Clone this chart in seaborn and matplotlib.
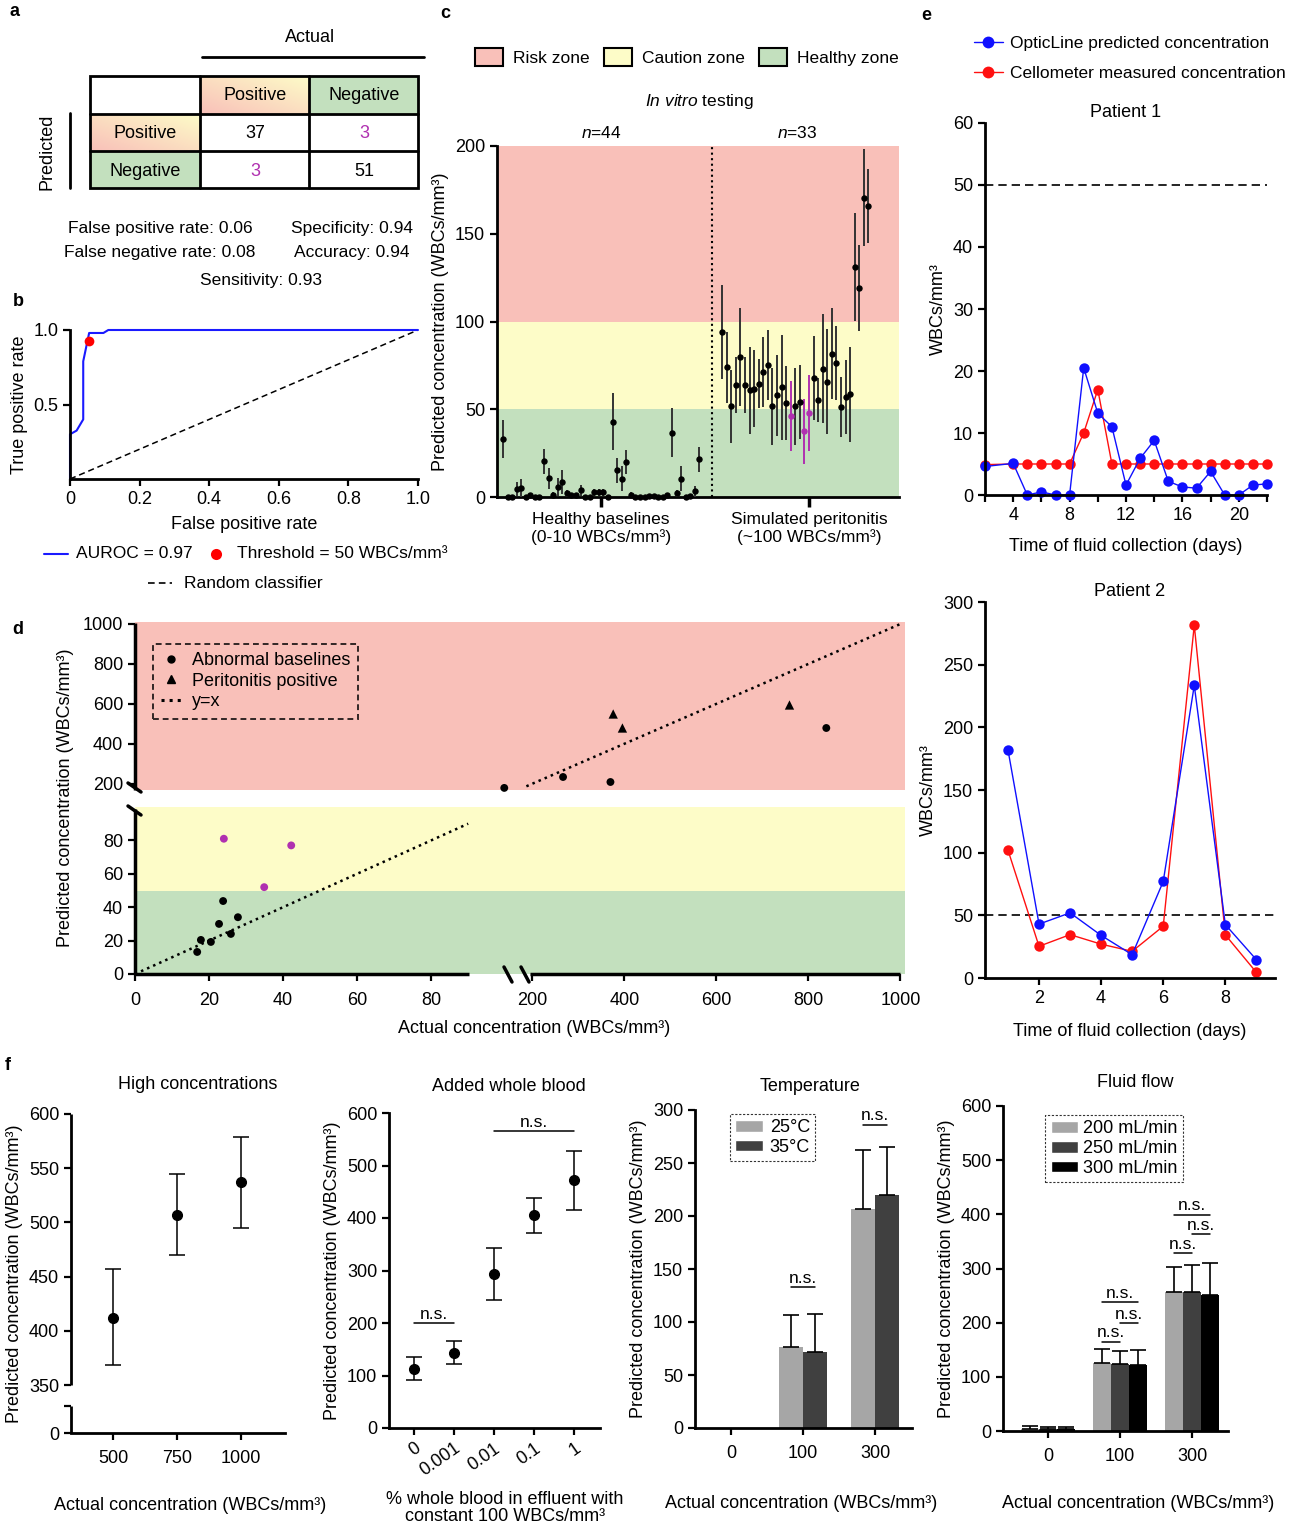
import numpy as np
import pandas as pd
import matplotlib
matplotlib.use('Agg')
import matplotlib.pyplot as plt
import seaborn as sns
from matplotlib.lines import Line2D
from matplotlib.patches import Patch, Rectangle

# ---------------- data ----------------
conf_labels = ['Positive', 'Negative']
conf_counts = [[37, 3], [3, 51]]
stats_left = ['False positive rate: 0.06', 'False negative rate: 0.08']
stats_right = ['Specificity: 0.94', 'Accuracy: 0.94']
stats_bottom = 'Sensitivity: 0.93'

roc_fpr = [0, 0, 0.019, 0.038, 0.038, 0.055, 0.096, 0.11, 1.0]
roc_tpr = [0, 0.30, 0.325, 0.40, 0.79, 0.98, 0.98, 1.0, 1.0]
thr_fpr, thr_tpr = 0.055, 0.927

healthy_vals = [33, 0, 0, 4.4, 5, 0, 1, 0, 0, 20.3, 10.8, 1.3, 5.7, 8.5, 2, 1, 1, 3.8, 0, 0,
                2.8, 2.8, 2.8, 0, 43, 15.2, 10.4, 20, 1.3, 0, 0, 0, 0.5, 0.5, 0, 0, 1, 36.6,
                2, 10.4, 0, 0.5, 3.2, 21.4]
healthy_err = [11, 0.3, 0.3, 4, 5, 0.3, 1, 0.3, 0.3, 7, 6, 1.5, 5, 7, 2, 1, 1, 3, 0.3, 0.3,
               2, 2, 2, 0.3, 16, 7, 7, 7, 1.5, 0.3, 0.3, 0.3, 0.5, 0.5, 0.3, 0.3, 1, 14,
               2, 7, 0.3, 0.5, 3, 7]
sim_vals = [94, 73.8, 51.6, 63.6, 79.7, 63.6, 60.7, 61.7, 64.5, 71, 75.3, 51.6, 57.9, 62.4,
            53.5, 46.1, 51.6, 54, 37.4, 47.8, 68, 55.2, 73, 65.8, 81.6, 76.5, 51.2, 57, 58.6,
            131, 119, 170.6, 166]
sim_err = [27, 20, 21, 16, 28, 16, 25, 22, 14, 20, 20, 22, 23, 30, 21, 20, 22, 21, 18.5, 21.6,
           24, 12.5, 31, 30, 26, 21, 17, 21, 27, 30.6, 24.6, 27.7, 21]
sim_flagged = [15, 18, 19]

d_base_x = [16.8, 17.8, 20.5, 22.7, 23.8, 25.9, 27.8, 152, 267, 370, 839]
d_base_y = [13.2, 20.4, 19.2, 30, 43.7, 24, 34, 183, 235, 210, 480]
d_flag_x = [24, 42.2, 34.9]
d_flag_y = [81, 77, 52]
d_perit_x = [376, 396, 759]
d_perit_y = [550, 480, 595]

p1_days = [2] + list(range(4, 23))
p1_optic = [4.6, 5.1, 0, 0.5, 0, 0, 20.5, 13.2, 11, 1.6, 5.9, 8.8, 2.2, 1.3, 1.1, 3.8, 0, 0, 1.6, 1.8]
p1_cello = [4.9, 5, 5, 5, 5, 5, 10, 17, 5, 5, 5, 5, 5, 5, 5, 5, 5, 5, 5, 5]
p2_days = list(range(1, 10))
p2_optic = [182, 43, 52, 34, 18.6, 77, 233.5, 42.6, 14.6]
p2_cello = [102, 25.3, 34.6, 27, 21.3, 41.3, 281.5, 34.4, 4.5]

high_actual = [500, 750, 1000]
high_mean = [412, 507, 537]
high_lo = [368, 470, 495]
high_hi = [457, 545, 579]

blood_labels = ['0', '0.001', '0.01', '0.1', '1']
blood_mean = [113, 143, 293, 405, 472]
blood_err = [22, 22, 50, 33, 56]

conc_labels = ['0', '100', '300']
temp_groups = ['25°C', '35°C']
temp_25 = [0, 76, 207]
temp_35 = [0, 72, 220]
temp_25_err = [0, 31, 55]
temp_35_err = [0, 36, 45]
temp_sig = [133, 286]

flow_groups = ['200 mL/min', '250 mL/min', '300 mL/min']
flow_200 = [4, 126, 256]
flow_250 = [3, 124, 256]
flow_300 = [3, 122, 251]
flow_200_err = [6, 25, 47]
flow_250_err = [4, 24, 50]
flow_300_err = [4, 27, 59]
flow_sig_100 = [165, 199, 238]
flow_sig_300 = [328, 363, 399]

RED = '#f9c0b9'
YEL = '#fdfcc8'
GRN = '#c3e0be'
MAG = '#b030b0'

# ---------------- style ----------------
sns.set_style('ticks')
plt.rcParams['font.family'] = ['Liberation Sans', 'DejaVu Sans']
plt.rcParams.update({
    'font.size': 12.5, 'axes.linewidth': 2, 'axes.edgecolor': 'k', 'text.color': 'k',
    'axes.labelcolor': 'k', 'xtick.color': 'k', 'ytick.color': 'k',
    'xtick.major.width': 1.6, 'ytick.major.width': 1.6,
    'xtick.minor.width': 1.6, 'ytick.minor.width': 1.6,
    'xtick.major.size': 5, 'ytick.major.size': 5, 'xtick.minor.size': 5, 'ytick.minor.size': 5,
    'xtick.labelsize': 13, 'ytick.labelsize': 13, 'axes.labelsize': 12.5,
    'mathtext.fontset': 'custom', 'mathtext.it': 'Liberation Sans:italic',
    'mathtext.rm': 'Liberation Sans',
})

W, H = 1300, 1522
fig = plt.figure(figsize=(W / 100, H / 100), dpi=100)


def px_axes(l, t, r, b):
    ax = fig.add_axes([l / W, 1 - b / H, (r - l) / W, (b - t) / H])
    ax.spines[['top', 'right']].set_visible(False)
    ax.set_facecolor('none')
    return ax


def sig_bar(ax, x1, x2, h):
    ax.plot([x1, x2], [h, h], color='k', lw=1.1, clip_on=False)
    ax.annotate('n.s.', xy=((x1 + x2) / 2, h), xytext=(0, 1), textcoords='offset points',
                ha='center', va='bottom', fontsize=12.5)


# overlay in pixel coordinates for texts / table / decorations
ov = fig.add_axes([0, 0, 1, 1])
ov.set_zorder(10)
ov.patch.set_alpha(0)

# ---------------- a: confusion table ----------------
pink = np.array([249, 192, 185]) / 255
yel = np.array([253, 252, 200]) / 255
gx, gy = np.meshgrid(np.linspace(0, 1, 64), np.linspace(0, 1, 64))
t = ((gx + (1 - gy)) / 2)[..., None]
grad = pink * (1 - t) + yel * t
ov.imshow(grad, extent=(200, 309, 114, 76), aspect='auto', zorder=0)
ov.imshow(grad, extent=(90, 200, 151, 114), aspect='auto', zorder=0)
ov.add_patch(Rectangle((309, 76), 109, 38, color=GRN, zorder=0))
ov.add_patch(Rectangle((90, 151), 110, 37, color=GRN, zorder=0))
ov.add_patch(Rectangle((90, 76), 328, 112, fill=False, lw=2, ec='k', zorder=2))
for xv in [200, 309]:
    ov.plot([xv, xv], [76, 188], color='k', lw=2)
for yv in [114, 151]:
    ov.plot([90, 418], [yv, yv], color='k', lw=2)
col_x = [255, 364]
row_y = [133, 171]
for j, lab in enumerate(conf_labels):
    ov.text(col_x[j], 96, lab, ha='center', va='center', fontsize=13)
    ov.text(145, row_y[j], lab, ha='center', va='center', fontsize=13)
for i in range(2):
    for j in range(2):
        ov.text(col_x[j], row_y[i], str(conf_counts[i][j]), ha='center', va='center',
                fontsize=13, color='k' if i == j else MAG)
ov.text(310, 38, 'Actual', ha='center', va='center', fontsize=13)
ov.plot([202, 424], [57, 57], color='k', lw=2)
ov.text(47, 152, 'Predicted', ha='center', va='center', rotation=90, fontsize=13)
ov.plot([70, 70], [113, 188], color='k', lw=2)
for k in range(2):
    ov.text(160, 229 + 23 * k, stats_left[k], ha='center', va='center', fontsize=12.5)
    ov.text(352, 229 + 23 * k, stats_right[k], ha='center', va='center', fontsize=12.5)
ov.text(261, 280, stats_bottom, ha='center', va='center', fontsize=12.5)

# ---------------- b: ROC ----------------
axb = px_axes(70, 330, 418, 479)
axb.plot([0, 1], [0, 1], color='k', ls='--', lw=1.1, dashes=(4, 2.5))
axb.plot(roc_fpr, roc_tpr, color='#1a1aff', lw=1.5, clip_on=False)
axb.plot([thr_fpr], [thr_tpr], 'o', color='#ff0000', ms=7, mec='none', zorder=5)
axb.set_xlim(0, 1)
axb.set_ylim(0, 1)
axb.set_xticks([0, 0.2, 0.4, 0.6, 0.8, 1.0], ['0', '0.2', '0.4', '0.6', '0.8', '1.0'])
axb.set_yticks([0.5, 1.0], ['0.5', '1.0'])
axb.set_xlabel('False positive rate', labelpad=6, fontsize=13)
axb.set_ylabel('True positive rate', labelpad=4, fontsize=13)
ov.plot([44, 68], [554, 554], color='#1a1aff', lw=1.5)
ov.text(76, 554, 'AUROC = 0.97', va='center', fontsize=12.5)
ov.plot([216], [554], 'o', color='#ff0000', ms=8, mec='none')
ov.text(237, 554, 'Threshold = 50 WBCs/mm³', va='center', fontsize=12.5)
ov.plot([148, 172], [583, 583], color='k', ls='--', lw=1.2, dashes=(4, 2.5))
ov.text(184, 583, 'Random classifier', va='center', fontsize=12.5)

# ---------------- c: in vitro ----------------
axc = px_axes(497, 146, 899, 497)
axc.axhspan(0, 50, color=GRN, lw=0, zorder=0)
axc.axhspan(50, 100, color=YEL, lw=0, zorder=0)
axc.axhspan(100, 200, color=RED, lw=0, zorder=0)
nh = len(healthy_vals)
xall = np.r_[np.arange(nh), np.arange(len(sim_vals)) + nh + 4]
vall = np.r_[healthy_vals, sim_vals]
eall = np.r_[healthy_err, sim_err]
mag = np.zeros(len(xall), bool)
mag[nh + np.array(sim_flagged)] = True
axc.errorbar(xall[~mag], vall[~mag], yerr=eall[~mag], fmt='o', ms=3.6, color='k',
             ecolor='#333333', elinewidth=1.4, capsize=0, clip_on=False, zorder=3)
axc.errorbar(xall[mag], vall[mag], yerr=eall[mag], fmt='o', ms=3.6, color=MAG,
             ecolor=MAG, elinewidth=1.4, capsize=0, clip_on=False, zorder=3)
axc.axvline(nh + 1.7, color='k', ls=':', lw=1.5)
axc.set_xlim(-1.3, 86.7)
axc.set_ylim(0, 200)
axc.set_yticks([0, 50, 100, 150, 200])
axc.set_xticks([21.5, 67], ['Healthy baselines\n(0-10 WBCs/mm³)',
                            'Simulated peritonitis\n(~100 WBCs/mm³)'], fontsize=12.5)
axc.tick_params(axis='x', length=7, width=2.5)
axc.set_ylabel('Predicted concentration (WBCs/mm³)', labelpad=4, fontsize=13)
axc.text(21.5, 203, r'$\it{n}$=44', ha='center', va='bottom')
axc.text(64.5, 203, r'$\it{n}$=33', ha='center', va='bottom')
axc.text(43, 220, r'$\it{In\ vitro}$ testing', ha='center', va='bottom')
zone_handles = [Patch(fc=RED, ec='k', lw=1.5), Patch(fc=YEL, ec='k', lw=1.5),
                Patch(fc=GRN, ec='k', lw=1.5)]
fig.legend(zone_handles, ['Risk zone', 'Caution zone', 'Healthy zone'], loc='center',
           bbox_to_anchor=(687 / W, 1 - 57 / H), ncol=3, frameon=False, handlelength=1.6,
           handleheight=1.2, columnspacing=0.8, handletextpad=0.6, fontsize=12.5)


# ---------------- d: broken axes ----------------
def fx(v):
    return np.interp(v, [-1000, 0, 90, 200, 1000, 3000], [-3700, 0, 333, 397, 765, 1685])


def fx_inv(p):
    return np.interp(p, [-3700, 0, 333, 397, 765, 1685], [-1000, 0, 90, 200, 1000, 3000])


def fy(v):
    return np.interp(v, [-1000, 0, 100, 200, 1000, 3000], [-1670, 0, 167, 190, 350, 750])


def fy_inv(p):
    return np.interp(p, [-1670, 0, 167, 190, 350, 750], [-1000, 0, 100, 200, 1000, 3000])


axd = px_axes(135, 622, 905, 974)
axd.set_xscale('function', functions=(fx, fx_inv))
axd.set_yscale('function', functions=(fy, fy_inv))
axd.set_xlim(0, 1010)
axd.set_ylim(0, 1010)
axd.axhspan(0, 50, color=GRN, lw=0, zorder=0)
axd.axhspan(50, 100, color=YEL, lw=0, zorder=0)
axd.axhspan(174, 1010, color=RED, lw=0, zorder=0)
axd.plot([0, 90], [0, 90], color='k', ls=':', lw=1.8)
axd.plot([190, 1000], [190, 1000], color='k', ls=':', lw=1.8)
sns.scatterplot(x=d_base_x, y=d_base_y, ax=axd, color='k', s=32, edgecolor='none', zorder=4)
sns.scatterplot(x=d_flag_x, y=d_flag_y, ax=axd, color=MAG, s=32, edgecolor='none', zorder=4)
sns.scatterplot(x=d_perit_x, y=d_perit_y, ax=axd, color='k', s=45, marker='^',
                edgecolor='none', zorder=4)
axd.spines[['left', 'bottom']].set_visible(False)
for seg in ([0, 92], [196, 1000]):
    axd.plot(seg, [0, 0], color='k', lw=2.5, clip_on=False, solid_capstyle='butt')
for seg in ([0, 99], [176, 1005]):
    axd.plot([0, 0], seg, color='k', lw=2.5, clip_on=False, solid_capstyle='butt')
axd.set_xticks([0, 20, 40, 60, 80, 200, 400, 600, 800, 1000])
axd.set_yticks([0, 20, 40, 60, 80, 200, 400, 600, 800, 1000])
axd.tick_params(axis='x', pad=8)
axd.set_xlabel('Actual concentration (WBCs/mm³)', labelpad=8, fontsize=13, x=0.518)
axd.set_ylabel('Predicted concentration (WBCs/mm³)', labelpad=6, fontsize=13)
for x0 in (504, 521):
    ov.plot([x0, x0 + 8], [967, 982], color='k', lw=2.5)
for y0 in (783, 806):
    ov.plot([128, 141], [y0, y0 + 9], color='k', lw=2.5)
leg_d = axd.legend(handles=[Line2D([], [], marker='o', color='k', ls='', ms=5),
                            Line2D([], [], marker='^', color='k', ls='', ms=6),
                            Line2D([], [], color='k', ls=':', lw=2.2)],
                   labels=['Abnormal baselines', 'Peritonitis positive', 'y=x'],
                   loc='upper left', bbox_to_anchor=(9 / 770, 1 - 13 / 352), frameon=True,
                   fancybox=False, edgecolor='k', facecolor='none', handlelength=1.1,
                   labelspacing=0.2, borderpad=0.45, handletextpad=0.6, fontsize=13)
leg_d.get_frame().set_linestyle((0, (3, 2)))
leg_d.get_frame().set_linewidth(1.4)

# ---------------- e: patients ----------------
ax1 = px_axes(985, 123, 1267, 495)
ax1.axhline(50, color='k', ls='--', lw=1.2, dashes=(5, 3))
sns.lineplot(x=p1_days, y=p1_cello, ax=ax1, color='#ff1010', marker='o', markersize=7.5,
             markeredgewidth=0, linewidth=1, clip_on=False)
sns.lineplot(x=p1_days, y=p1_optic, ax=ax1, color='#1010ff', marker='o', markersize=7.5,
             markeredgewidth=0, linewidth=1, clip_on=False)
ax1.set_xlim(2, 22)
ax1.set_ylim(0, 60)
ax1.set_xticks(range(2, 23, 2), [str(d) if d % 4 == 0 else '' for d in range(2, 23, 2)])
ax1.set_yticks(range(0, 61, 10))
ax1.set_title('Patient 1', fontsize=13, pad=4)
ax1.set_xlabel('Time of fluid collection (days)', labelpad=10, fontsize=13)
ax1.set_ylabel('WBCs/mm³', labelpad=4, fontsize=13)

ax2 = px_axes(985, 602, 1275, 978)
ax2.axhline(50, color='k', ls='--', lw=1.2, dashes=(5, 3))
sns.lineplot(x=p2_days, y=p2_cello, ax=ax2, color='#ff1010', marker='o', markersize=7.5,
             markeredgewidth=0, linewidth=1, clip_on=False)
sns.lineplot(x=p2_days, y=p2_optic, ax=ax2, color='#1010ff', marker='o', markersize=7.5,
             markeredgewidth=0, linewidth=1, clip_on=False)
ax2.set_xlim(0.26, 9.6)
ax2.set_ylim(0, 300)
ax2.set_xticks([2, 4, 6, 8])
ax2.set_yticks(range(0, 301, 50))
ax2.set_title('Patient 2', fontsize=13, pad=4)
ax2.set_xlabel('Time of fluid collection (days)', labelpad=12, fontsize=13)
ax2.set_ylabel('WBCs/mm³', labelpad=4, fontsize=13)
fig.legend([Line2D([], [], color='#1010ff', marker='o', ms=8.5, mec='none', lw=1),
            Line2D([], [], color='#ff1010', marker='o', ms=8.5, mec='none', lw=1)],
           ['OpticLine predicted concentration', 'Cellometer measured concentration'],
           loc='upper left', bbox_to_anchor=(958 / W, 1 - 20 / H), frameon=False,
           handlelength=1.7, labelspacing=0.85, handletextpad=0.4, fontsize=12.5)


# ---------------- f1: high concentrations ----------------
def fh(v):
    return np.interp(v, [-1000, 0, 350, 600, 2000], [-137, 0, 48, 319, 1836])


def fh_inv(p):
    return np.interp(p, [-137, 0, 48, 319, 1836], [-1000, 0, 350, 600, 2000])


axf1 = px_axes(71, 1114, 285, 1433)
axf1.set_yscale('function', functions=(fh, fh_inv))
axf1.errorbar(high_actual, high_mean,
              yerr=[np.subtract(high_mean, high_lo), np.subtract(high_hi, high_mean)],
              fmt='o', ms=7, color='k', elinewidth=1.1, capsize=6, capthick=1.1)
axf1.set_xlim(336, 1172)
axf1.set_ylim(0, 600)
axf1.set_xticks(high_actual)
axf1.set_yticks([0, 350, 400, 450, 500, 550, 600])
axf1.set_yticks([200], minor=True)
axf1.tick_params(axis='y', which='minor', labelleft=False)
axf1.tick_params(axis='x', pad=7)
axf1.spines['left'].set_visible(False)
for seg in ([0, 200], [350, 600]):
    axf1.plot([336, 336], seg, color='k', lw=2, clip_on=False, solid_capstyle='butt')
axf1.set_title('High concentrations', fontsize=13, pad=18, x=0.59)
axf1.set_xlabel('Actual concentration (WBCs/mm³)', labelpad=22, fontsize=13, x=0.556)
axf1.set_ylabel('Predicted concentration (WBCs/mm³)', labelpad=4, fontsize=13)

# ---------------- f2: added whole blood ----------------
axf2 = px_axes(389, 1113, 600, 1428)
xb = np.arange(len(blood_labels))
axf2.errorbar(xb, blood_mean, yerr=blood_err, fmt='o', ms=7, color='k', elinewidth=1.1,
              capsize=6, capthick=1.1)
axf2.set_xlim(-0.625, 4.65)
axf2.set_ylim(0, 600)
axf2.set_yticks(range(0, 601, 100))
axf2.set_xticks(xb, blood_labels, rotation=35, ha='right', rotation_mode='anchor')
sig_bar(axf2, 0, 1, 200)
sig_bar(axf2, 2, 4, 565)
axf2.set_title('Added whole blood', fontsize=13, pad=16, x=0.57)
axf2.set_xlabel('% whole blood in effluent with\nconstant 100 WBCs/mm³', labelpad=8,
                linespacing=1.0, fontsize=13, x=0.55)
axf2.set_ylabel('Predicted concentration (WBCs/mm³)', labelpad=4, fontsize=13)


# ---------------- f3 / f4: bars ----------------
def bar_panel(ax, groups, means, errs, colors, width):
    df = pd.DataFrame({'conc': conc_labels * len(groups),
                       'group': np.repeat(groups, len(conc_labels)),
                       'val': np.concatenate(means)})
    sns.barplot(data=df, x='conc', y='val', hue='group', palette=colors, width=width,
                errorbar=None, saturation=1, legend=False, ax=ax, edgecolor='none',
                linewidth=0)
    bars = [list(cont) for cont in ax.containers]
    centers = [[b.get_x() + b.get_width() / 2 for b in cont] for cont in bars]
    for cont, ee in zip(bars, errs):
        for bar, e in zip(cont, ee):
            if e > 0:
                ax.errorbar(bar.get_x() + bar.get_width() / 2, bar.get_height(),
                            yerr=[[0], [e]], fmt='none', ecolor='k', elinewidth=1.2,
                            capsize=6, capthick=1.2)
    return centers


axf3 = px_axes(695, 1110, 912, 1428)
c3 = bar_panel(axf3, temp_groups, [temp_25, temp_35], [temp_25_err, temp_35_err],
               ['#a6a6a6', '#404040'], 0.667)
axf3.set_xlim(-0.5, 2.51)
axf3.set_ylim(0, 300)
axf3.set_yticks(range(0, 301, 50))
axf3.tick_params(axis='x', pad=7)
for k, h in zip([1, 2], temp_sig):
    sig_bar(axf3, c3[0][k], c3[1][k], h)
axf3.set_title('Temperature', fontsize=13, pad=14, x=0.53)
axf3.set_xlabel('Actual concentration (WBCs/mm³)', labelpad=24, fontsize=13, x=0.49)
axf3.set_ylabel('Predicted concentration (WBCs/mm³)', labelpad=4, fontsize=13)
leg3 = axf3.legend([Patch(fc='#a6a6a6'), Patch(fc='#404040')], temp_groups, loc='upper left',
                   bbox_to_anchor=(0.12, 1.016), frameon=True, fancybox=False, edgecolor='k',
                   handlelength=1.5, handleheight=0.6, labelspacing=0.15, borderpad=0.3,
                   handletextpad=0.4, fontsize=13)
leg3.get_frame().set_linestyle((0, (2, 1.5)))
leg3.get_frame().set_linewidth(0.8)

axf4 = px_axes(1003, 1106, 1228, 1431)
c4 = bar_panel(axf4, flow_groups, [flow_200, flow_250, flow_300],
               [flow_200_err, flow_250_err, flow_300_err], ['#a6a6a6', '#404040', '#000000'],
               0.75)
axf4.set_xlim(-0.625, 2.5)
axf4.set_ylim(0, 600)
axf4.set_yticks(range(0, 601, 100))
axf4.tick_params(axis='x', pad=7)
for k, hs in zip([1, 2], [flow_sig_100, flow_sig_300]):
    sig_bar(axf4, c4[0][k], c4[1][k], hs[0])
    sig_bar(axf4, c4[1][k], c4[2][k], hs[1])
    sig_bar(axf4, c4[0][k], c4[2][k], hs[2])
axf4.set_title('Fluid flow', fontsize=13, pad=14, x=0.587)
axf4.set_xlabel('Actual concentration (WBCs/mm³)', labelpad=22, fontsize=13, x=0.6)
axf4.set_ylabel('Predicted concentration (WBCs/mm³)', labelpad=4, fontsize=13)
leg4 = axf4.legend([Patch(fc=c) for c in ['#a6a6a6', '#404040', '#000000']], flow_groups,
                   loc='upper left', bbox_to_anchor=(0.147, 1.0), frameon=True, fancybox=False,
                   edgecolor='k', handlelength=1.5, handleheight=0.6, labelspacing=0.15,
                   borderpad=0.3, handletextpad=0.3, fontsize=13)
leg4.get_frame().set_linestyle((0, (2, 1.5)))
leg4.get_frame().set_linewidth(0.8)

# panel letters
for lab, (x, y) in {'a': (14, 12), 'b': (18, 302), 'c': (445, 14), 'd': (18, 630),
                    'e': (926, 16), 'f': (8, 1066)}.items():
    ov.text(x, y, lab, fontsize=13, fontweight='bold', ha='center', va='center')

ov.set_xlim(0, W)
ov.set_ylim(H, 0)
ov.axis('off')

fig.savefig('out.png', dpi=100)
